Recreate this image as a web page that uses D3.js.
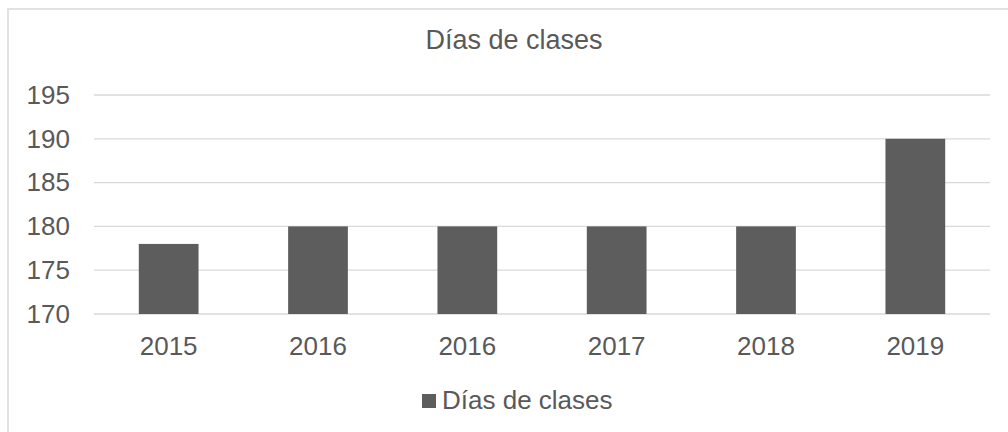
<!DOCTYPE html>
<html>
<head>
<meta charset="utf-8">
<script src="https://cdn.jsdelivr.net/npm/d3@7"></script>
<style>
  body { margin: 0; background: #fff; }
  text { font-family: "Liberation Sans", Arial, sans-serif; fill: #595959; }
</style>
</head>
<body>
<div id="chart"></div>
<script>
var categories = ['2015', '2016', '2016', '2017', '2018', '2019'];
var values = [178, 180, 180, 180, 180, 190];
var yTicks = [170, 175, 180, 185, 190, 195];
var seriesName = 'Días de clases';
var chartTitle = 'Días de clases';

var w = 1008,
  h = 432;
var plotLeft = 94, plotRight = 990, plotTop = 95, plotBottom = 314;

var svg = d3.select('#chart')
  .append('svg')
  .attr('width', w)
  .attr('height', h);

// outer border of the chart area
svg.append('rect')
  .attr('x', 8).attr('y', 9)
  .attr('width', w + 10).attr('height', h + 10)
  .attr('fill', '#fff')
  .attr('stroke', '#d9d9d9')
  .attr('stroke-width', 1.5);

var idx = d3.range(categories.length);
var xscale = d3.scaleBand().domain(idx).range([plotLeft, plotRight]).paddingInner(0.6).paddingOuter(0.3);
var yscale = d3.scaleLinear().domain([170, 195]).range([plotBottom, plotTop]);

// gridlines
svg.append('g')
  .selectAll('line')
  .data(yTicks)
  .enter().append('line')
  .attr('x1', plotLeft).attr('x2', plotRight)
  .attr('y1', function(d) { return yscale(d); })
  .attr('y2', function(d) { return yscale(d); })
  .attr('stroke', '#d9d9d9')
  .attr('stroke-width', 1.3);

// bars
svg.append('g')
  .selectAll('rect')
  .data(values)
  .enter().append('rect')
  .attr('x', function(d, i) { return xscale(i); })
  .attr('y', function(d) { return yscale(d); })
  .attr('width', xscale.bandwidth())
  .attr('height', function(d) { return yscale(170) - yscale(d); })
  .attr('fill', '#5d5d5d');

// y axis labels
var yaxis = d3.axisLeft(yscale).tickValues(yTicks).tickSize(0).tickPadding(24);
var gy = svg.append('g').attr('transform', 'translate(' + plotLeft + ',0)').call(yaxis);
gy.select('.domain').remove();
gy.selectAll('text')
  .attr('font-size', 26)
  .attr('font-family', '"Liberation Sans", Arial, sans-serif')
  .attr('fill', '#595959');

// x axis labels
var xaxis = d3.axisBottom(xscale).tickSize(0).tickPadding(23)
  .tickFormat(function(i) { return categories[i]; });
var gx = svg.append('g').attr('transform', 'translate(0,' + plotBottom + ')').call(xaxis);
gx.select('.domain').remove();
gx.selectAll('text')
  .attr('font-size', 26)
  .attr('font-family', '"Liberation Sans", Arial, sans-serif')
  .attr('fill', '#595959');

// title
svg.append('text')
  .attr('x', 514).attr('y', 49)
  .attr('text-anchor', 'middle')
  .attr('font-size', 27)
  .text(chartTitle);

// legend
svg.append('rect')
  .attr('x', 422).attr('y', 394)
  .attr('width', 14).attr('height', 14)
  .attr('fill', '#5d5d5d');
svg.append('text')
  .attr('x', 442).attr('y', 409)
  .attr('font-size', 26)
  .text(seriesName);
</script>
</body>
</html>
